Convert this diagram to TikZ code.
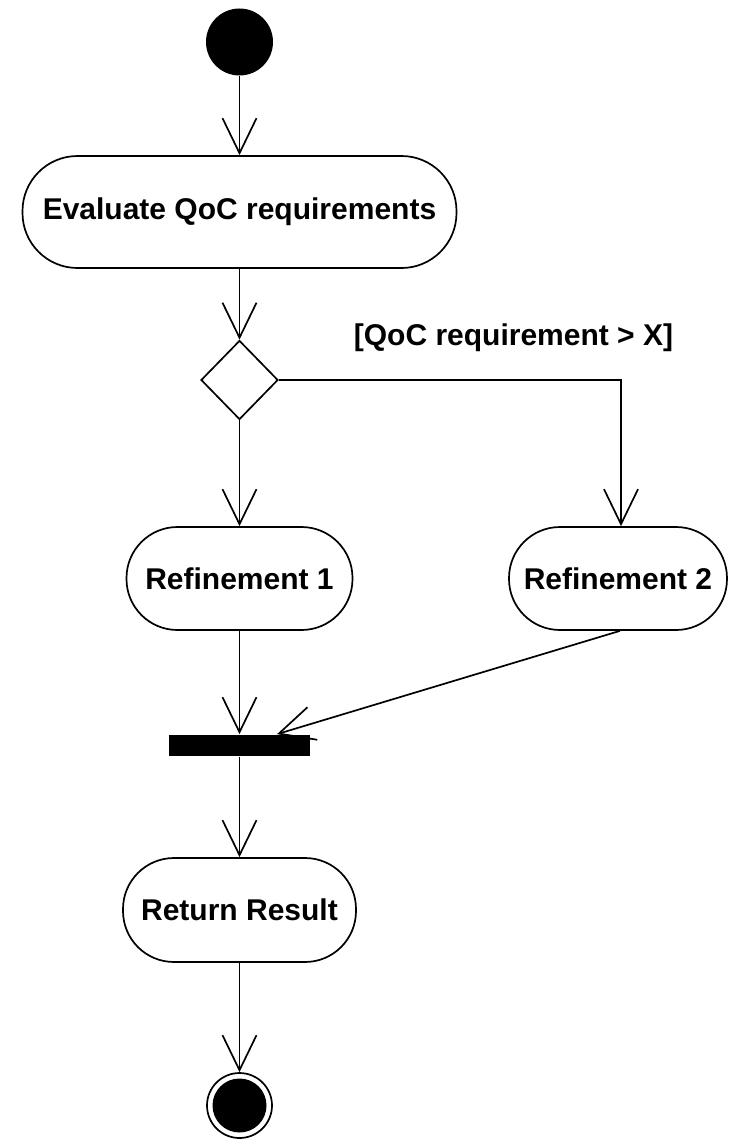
\documentclass[tikz,border=0pt]{standalone}
\usepackage{fontspec}
\setmainfont{Liberation Sans}
\usetikzlibrary{shapes.geometric,arrows.meta,calc}
\pgfdeclarelayer{edges}
\pgfsetlayers{edges,main}
\begin{document}
\begin{tikzpicture}[x=1pt,y=-1pt,line width=1.7pt,
  flow/.style={line width=1.7pt,-{Straight Barb[length=35pt,width=34pt,line width=1.7pt]}},
  action/.style={draw,fill=white,inner sep=0pt,
    font=\bfseries\fontsize{30}{36}\selectfont},
  guard/.style={font=\bfseries\fontsize{30}{36}\selectfont,inner sep=0pt}]
\useasboundingbox (0,0) rectangle (728,1140);

% start and end states
\node[circle,fill,minimum size=67pt,inner sep=0pt] (init) at (239.5,42) {};
\node[circle,draw,fill=white,minimum size=65pt,inner sep=0pt] (final) at (239.5,1105.5) {};
\node[circle,fill,minimum size=54pt,inner sep=0pt] (finalcore) at (final.center) {};

% actions
\node[action,rounded corners=55pt,minimum width=434pt,minimum height=112pt] (eval) at (239.5,212) {Evaluate QoC requirements};
\node[action,rounded corners=51pt,minimum width=226pt,minimum height=103pt] (ref1) at (239.5,578.5) {Refinement 1};
\node[action,rounded corners=51pt,minimum width=218pt,minimum height=103pt] (ref2) at (618,578.5) {Refinement 2};
\node[action,rounded corners=51pt,minimum width=233pt,minimum height=104pt] (ret) at (239.5,910) {Return Result};

% decision and join
\node[diamond,draw,fill=white,inner sep=0pt,minimum width=77pt,minimum height=79pt] (dec) at (239.5,380) {};
\node[rectangle,fill,inner sep=0pt,minimum width=141pt,minimum height=21pt] (bar) at (239.5,745.5) {};

% guard
\node[guard,anchor=base] (cond) at (513.5,345) {[QoC requirement > X]};

% control flows
\begin{pgfonlayer}{edges}
\draw[flow] (init) -- (eval);
\draw[flow] (eval) -- (dec);
\draw[flow] (dec.east) -| ([xshift=3pt]ref2.north);
\draw[flow] (dec) -- (ref1);
\draw[flow] (ref1) -- (bar);
\draw[flow] ([xshift=2pt]ref2.south) -- ([xshift=37.5pt]bar.north);
\draw[flow] (bar) -- (ret);
\draw[flow] (ret) -- (final);
\end{pgfonlayer}
\end{tikzpicture}
\end{document}
